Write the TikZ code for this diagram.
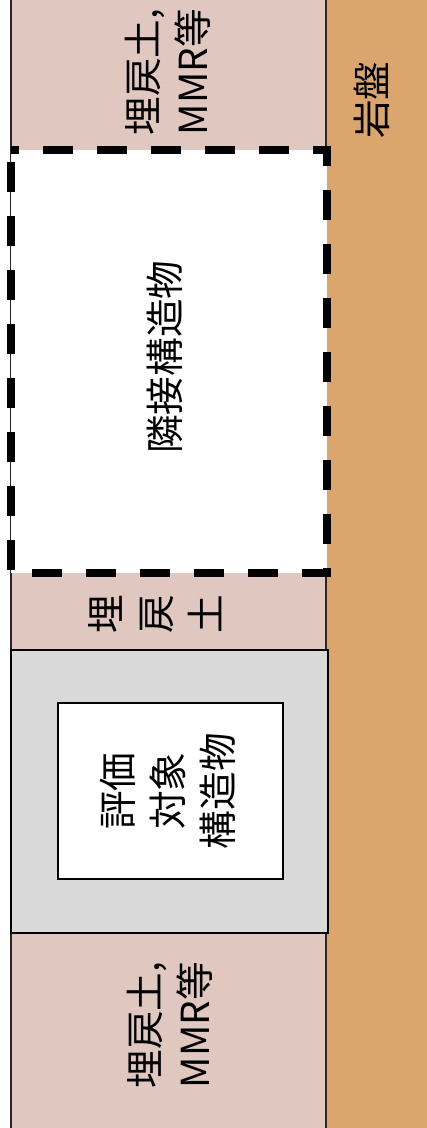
\documentclass[tikz,border=0pt]{standalone}
\usepackage{fontspec}
\setmainfont{Noto Sans CJK JP}
\usetikzlibrary{positioning}
\definecolor{umemodoshi}{RGB}{224,200,192}
\definecolor{ganban}{RGB}{219,166,110}
\definecolor{kouzou}{RGB}{217,217,217}
\tikzset{lbl/.style={rotate=90, align=center, font=\fontsize{29}{37.5}\selectfont}}

\begin{document}
\begin{tikzpicture}[x=0.75pt,y=-0.75pt]
  \useasboundingbox (0,0) rectangle (426,1128);
  \fill[ganban] (326,-2) rectangle (428,1130);
  \draw[fill=umemodoshi, draw=black!85, line width=0.9pt] (11,-4) rectangle (326,1132);
  \draw[fill=white, line width=5.5pt, dash pattern=on 22.5pt off 18pt, dash phase=-9pt] (11,150) rectangle (327,573);
  \draw[fill=kouzou, line width=2pt] (11,650) rectangle (328,933);
  \draw[fill=white, line width=1.6pt] (58,703) rectangle (283,879);
  \node[lbl] (umeTop) at (168,72) {埋戻土,\\MMR等};
  \node[lbl] (rinsetsu) at (165,357) {隣接構造物};
  \node[lbl] (umeMid) at (155,614) {埋\\戻\\土};
  \node[lbl] (hyouka) at (168,791) {評価\\対象\\構造物};
  \node[lbl] (umeBot) at (170,1025) {埋戻土,\\MMR等};
  \node[lbl] (ganbanLbl) at (372,100) {岩盤};
\end{tikzpicture}
\end{document}
